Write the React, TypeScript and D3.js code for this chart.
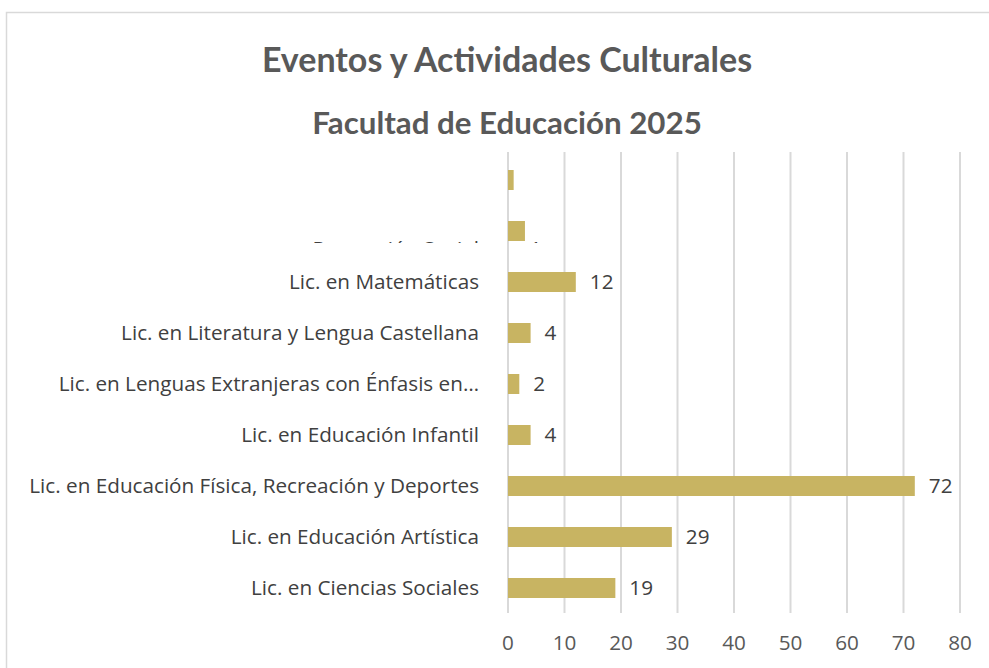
import React from "react";
import * as d3 from "d3";

const categories = [
  "Lic. en Ciencias Sociales",
  "Lic. en Educación Artística",
  "Lic. en Educación Física, Recreación y Deportes",
  "Lic. en Educación Infantil",
  "Lic. en Lenguas Extranjeras con Énfasis en…",
  "Lic. en Literatura y Lengua Castellana",
  "Lic. en Matemáticas",
  "Proyección Social",
  "Otros",
];
const values = [19, 29, 72, 4, 2, 4, 12, 3, 1];
// labels that are visible (the top two are hidden by the chart's clipping)
const visibleLabels = [true, true, true, true, true, true, true, false, false];
const xTicks = [0, 10, 20, 30, 40, 50, 60, 70, 80];
const title = "Eventos y Actividades Culturales";
const subtitle = "Facultad de Educación 2025";

const W = 989;
const H = 668;
const FONT = "'Open Sans', sans-serif";
const TFONT = "Lato, 'Open Sans', sans-serif";
const GRAY = "#595959";
const FS = 20.7;

export default function App() {
  const x = d3.scaleLinear().domain([0, 80]).range([508, 960]);
  const y = d3
    .scaleBand<string>()
    .domain(categories)
    .range([613.5, 154.5])
    .paddingInner(0.6)
    .paddingOuter(0.3);
  const bw = 20;
  const center = (c: string) => (y(c) as number) + y.bandwidth() / 2;

  return (
    <div style={{ position: "fixed", left: 0, top: 0, width: W, height: H, background: "#fff" }}>
      <svg width={W} height={H} style={{ display: "block" }}>
        <defs>
          <clipPath id="partial">
            <rect x={0} y={0} width={W} height={243} />
          </clipPath>
        </defs>
        {/* frame */}
        <path d={`M6.5,${H} V12.5 H${W}`} fill="none" stroke="#D9D9D9" strokeWidth={1.5} />
        {/* titles */}
        <text x={507} y={72} textAnchor="middle" fontFamily={TFONT} fontWeight={700} fontSize={34} fill={GRAY}>
          {title}
        </text>
        <text x={507} y={134} textAnchor="middle" fontFamily={TFONT} fontWeight={700} fontSize={31.3} fill={GRAY}>
          {subtitle}
        </text>
        {/* gridlines */}
        {xTicks.map((t) => (
          <line key={t} x1={x(t)} x2={x(t)} y1={152} y2={613} stroke="#D9D9D9" strokeWidth={2} />
        ))}
        {xTicks.map((t) => (
          <text key={"t" + t} x={x(t)} y={650} textAnchor="middle" fontFamily={FONT} fontSize={FS} fill={GRAY}>
            {t}
          </text>
        ))}
        {/* bars */}
        {categories.map((c, i) => (
          <rect key={c} x={x(0)} y={center(c) - bw / 2} width={x(values[i]) - x(0)} height={bw} fill="#C8B462" />
        ))}
        {/* labels */}
        {categories.map((c, i) =>
          visibleLabels[i] ? (
            <g key={"l" + c}>
              <text x={479} y={center(c)} dy="0.35em" textAnchor="end" fontFamily={FONT} fontSize={FS} fill="#404040">
                {c}
              </text>
              <text x={x(values[i]) + 14} y={center(c)} dy="0.35em" fontFamily={FONT} fontSize={FS} fill="#404040">
                {values[i]}
              </text>
            </g>
          ) : null
        )}
        {/* partially hidden label of the "Proyección Social" row */}
        <g clipPath="url(#partial)">
          <text x={479} y={center(categories[7]) + 25} textAnchor="end" fontFamily={FONT} fontSize={FS} fill="#404040">
            {categories[7]}
          </text>
          <text x={x(values[8]) + 16} y={center(categories[7]) + 25} fontFamily={FONT} fontSize={FS} fill="#404040">
            {values[8]}
          </text>
        </g>
      </svg>
    </div>
  );
}
